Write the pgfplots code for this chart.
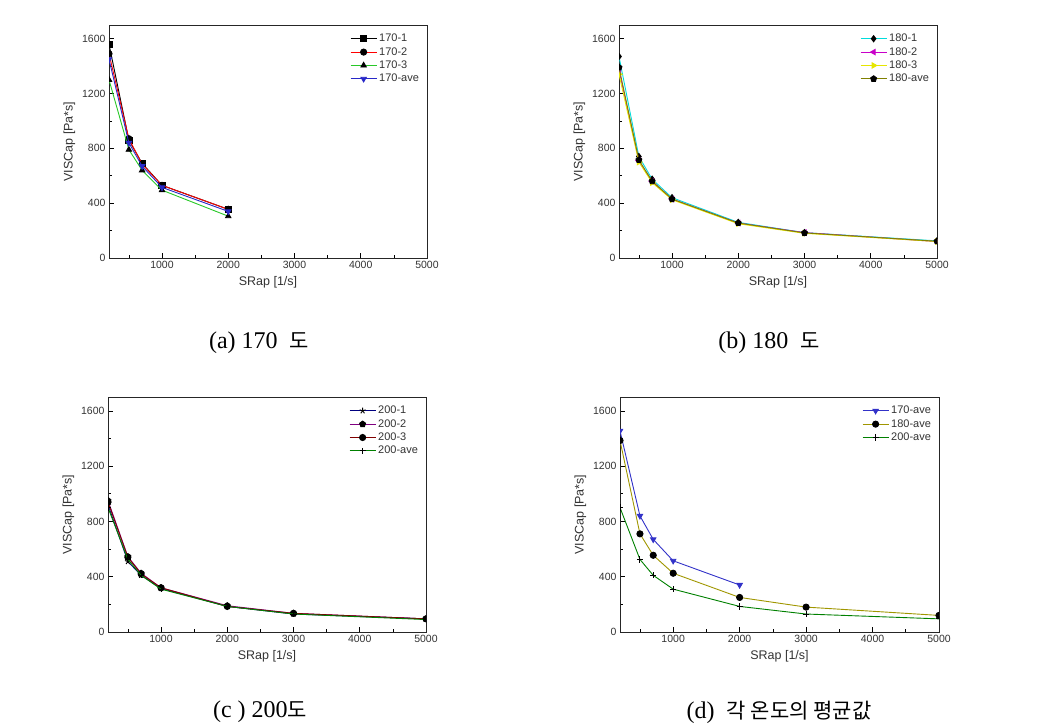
\documentclass[border=0pt]{standalone}
\usepackage{fontspec}
\setmainfont{Liberation Serif}
\setsansfont{Liberation Sans}
\newfontfamily\cjk{Noto Sans CJK KR}
\usepackage{pgfplots}
\pgfplotsset{compat=1.18}
\definecolor{ogreen}{RGB}{40,200,40}
\definecolor{oblue}{RGB}{40,40,200}
\definecolor{ocyan}{RGB}{0,220,220}
\definecolor{omag}{RGB}{200,0,200}
\definecolor{oyel}{RGB}{230,230,0}
\definecolor{ooli}{RGB}{128,128,0}
\definecolor{onavy}{RGB}{0,0,128}
\definecolor{opurp}{RGB}{128,0,128}
\definecolor{owine}{RGB}{128,0,0}
\definecolor{odgreen}{RGB}{0,128,0}
\definecolor{dblue}{RGB}{50,50,200}
\definecolor{dyel}{RGB}{160,150,0}
\pgfplotsset{
  myax/.style={
    scale only axis, anchor=south west,
    width=318pt, height=233pt,
    xmin=200, xmax=5000, ymin=0, ymax=1700,
    clip marker paths=true,
    xtick={1000,2000,3000,4000,5000},
    ytick={0,400,800,1200,1600},
    minor xtick={500,1500,2500,3500,4500},
    minor ytick={200,600,1000,1400},
    tick align=inside, xtick pos=left, ytick pos=left,
    major tick length=5pt, minor tick length=3pt,
    every tick/.style={black, line width=0.6pt},
    axis line style={line width=0.8pt, black!85},
    font=\sffamily,
    /pgf/number format/assume math mode=true,
    /pgf/number format/1000 sep={},
    tick label style={font=\sffamily\fontsize{10.5}{11}\selectfont, black!80},
    xlabel={SRap [1/s]}, ylabel={VISCap [Pa*s]},
    label style={font=\sffamily\fontsize{12.5}{13}\selectfont, black!80},
    xlabel style={yshift=-1pt},
    ylabel style={yshift=0pt},
    legend cell align=left,
    legend style={at={(rel axis cs:0.985,0.975)}, anchor=north east, draw=none, fill=none,
      font=\sffamily\fontsize{11}{12}\selectfont, inner sep=1pt,
      nodes={inner sep=2.1pt, text=black!80}},
    legend image code/.code={\draw[mark repeat=2,mark phase=2,#1] plot coordinates {(0pt,0pt) (13pt,0pt) (26pt,0pt)};},
    every axis plot/.append style={line width=0.9pt, mark size=3.1pt, mark options={fill=black, draw=black, solid}},
  }
}
\begin{document}
\begin{tikzpicture}
\path[use as bounding box] (0pt,0pt) rectangle (1038pt,727pt);
% (a)
\begin{axis}[myax, at={(109pt,469pt)}]
\addplot[black, mark=square*] coordinates {(200,1560) (500,860) (700,690) (1000,530) (2000,355)};
\addplot[red, mark=*] coordinates {(200,1490) (500,870) (700,685) (1000,530) (2000,355)};
\addplot[ogreen, mark=triangle*] coordinates {(200,1300) (500,790) (700,640) (1000,495) (2000,305)};
\addplot[oblue, mark=triangle*, mark options={rotate=180}] coordinates {(200,1450) (500,840) (700,670) (1000,515) (2000,340)};
\legend{170-1,170-2,170-3,170-ave}
\end{axis}
% (b)
\begin{axis}[myax, at={(619pt,469pt)}]
\addplot[ocyan, mark=diamond*] coordinates {(200,1470) (500,740) (700,575) (1000,440) (2000,260) (3000,185) (5000,125)};
\addplot[omag, mark=triangle*, mark options={rotate=90}] coordinates {(200,1370) (500,710) (700,560) (1000,430) (2000,255) (3000,185) (5000,120)};
\addplot[oyel, mark=triangle*, mark options={rotate=-90}] coordinates {(200,1340) (500,700) (700,550) (1000,425) (2000,250) (3000,180) (5000,120)};
\addplot[ooli, mark=pentagon*] coordinates {(200,1390) (500,715) (700,560) (1000,430) (2000,255) (3000,183) (5000,122)};
\legend{180-1,180-2,180-3,180-ave}
\end{axis}
% (c)
\begin{axis}[myax, at={(108pt,95pt)}, height=235pt]
\addplot[onavy, mark=star] coordinates {(200,920) (500,510) (700,410) (1000,315) (2000,185) (3000,130) (5000,95)};
\addplot[opurp, mark=pentagon*] coordinates {(200,950) (500,545) (700,425) (1000,320) (2000,190) (3000,135) (5000,95)};
\addplot[owine, mark=*] coordinates {(200,940) (500,540) (700,420) (1000,320) (2000,185) (3000,135) (5000,95)};
\addplot[odgreen, mark=+] coordinates {(200,900) (500,525) (700,410) (1000,310) (2000,185) (3000,130) (5000,90)};
\legend{200-1,200-2,200-3,200-ave}
\end{axis}
% (d)
\begin{axis}[myax, at={(620pt,95pt)}, height=235pt, width=319pt]
\addplot[dblue, mark=triangle*, mark options={rotate=180}] coordinates {(200,1455) (500,840) (700,670) (1000,515) (2000,340)};
\addplot[dyel, mark=*] coordinates {(200,1385) (500,710) (700,555) (1000,425) (2000,250) (3000,180) (5000,120)};
\addplot[odgreen, mark=+] coordinates {(200,900) (500,525) (700,410) (1000,310) (2000,185) (3000,130) (5000,95)};
\legend{170-ave,180-ave,200-ave}
\end{axis}
\node[font=\fontsize{24}{26}\selectfont] at (259pt,384pt) {(a) 170\ \ {\cjk\fontsize{21}{24}\selectfont 도}};
\node[font=\fontsize{24}{26}\selectfont] at (769pt,384pt) {(b) 180\ \ {\cjk\fontsize{21}{24}\selectfont 도}};
\node[font=\fontsize{24}{26}\selectfont] at (260pt,15pt) {(c ) 200{\cjk\fontsize{21}{24}\selectfont 도}};
\node[font=\fontsize{24}{26}\selectfont] at (779pt,15pt) {(d)\ \ {\cjk\fontsize{21}{24}\selectfont 각 온도의 평균값}};
\end{tikzpicture}
\end{document}
